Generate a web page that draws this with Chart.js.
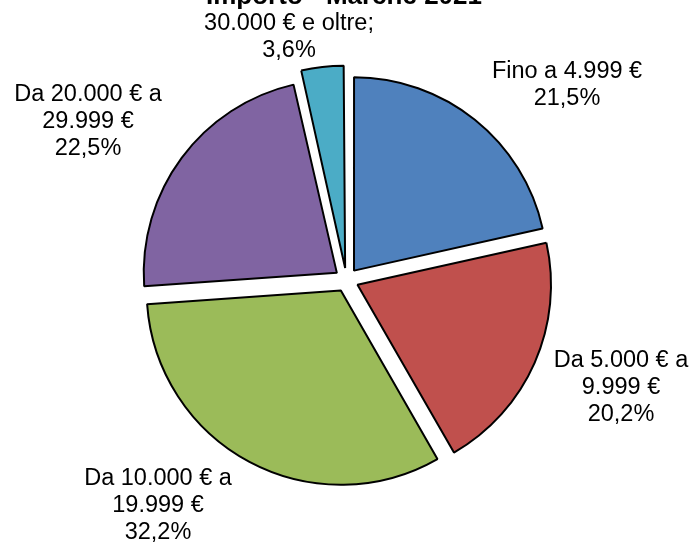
<!DOCTYPE html>
<html>
<head>
<meta charset="utf-8">
<script src="https://cdn.jsdelivr.net/npm/chart.js@4"></script>
<style>
  html, body { margin: 0; padding: 0; background: #fff; }
  #wrap { width: 696px; height: 545px; }
</style>
</head>
<body>
<div id="wrap"><canvas id="pie"></canvas></div>
<script>
// Data
const categories = ['Fino a 4.999 €', 'Da 5.000 € a 9.999 €', 'Da 10.000 € a 19.999 €', 'Da 20.000 € a 29.999 €', '30.000 € e oltre'];
const labelLines = [
    ['Fino a 4.999 €'],
    ['Da 5.000 € a', '9.999 €'],
    ['Da 10.000 € a', '19.999 €'],
    ['Da 20.000 € a', '29.999 €'],
    ['30.000 € e oltre;']
];
const shares = [21.5, 20.2, 32.2, 22.5, 3.6];
const sliceColors = ['#4F81BD', '#C0504D', '#9BBB59', '#8064A2', '#4BACC6'];
const chartTitle = 'Importo - Marche 2021';

// where each data label block is centred
const labelAt = [[567, 85], [621, 388], [158, 506], [88, 122], [289, 37]];

const fmtPct = v => v.toFixed(1).replace('.', ',') + '%';

// title sits mostly above the canvas, like in the original
const cutTitle = {
    id: 'cutTitle',
    afterDraw(chart) {
        const ctx = chart.ctx;
        ctx.save();
        ctx.font = 'bold 26px "Liberation Sans", Arial, sans-serif';
        ctx.fillStyle = '#000';
        ctx.textAlign = 'center';
        ctx.textBaseline = 'alphabetic';
        ctx.fillText(chartTitle, 344, 4);
        ctx.restore();
    }
};

const sliceLabels = {
    id: 'sliceLabels',
    afterDatasetsDraw(chart) {
        const ctx = chart.ctx;
        ctx.save();
        ctx.font = '23.5px "Liberation Sans", Arial, sans-serif';
        ctx.fillStyle = '#000';
        ctx.textAlign = 'center';
        ctx.textBaseline = 'middle';
        const lh = 27;
        shares.forEach((v, i) => {
            const lines = labelLines[i].slice();
            lines.push(fmtPct(v));
            const [x, y] = labelAt[i];
            const top = y - (lines.length - 1) * lh / 2;
            lines.forEach((t, k) => ctx.fillText(t, x, top + k * lh));
        });
        ctx.restore();
    }
};

new Chart(document.getElementById('pie'), {
    type: 'pie',
    data: {
        labels: categories,
        datasets: [{
            data: shares,
            backgroundColor: sliceColors,
            borderColor: '#000',
            borderWidth: 2,
            offset: 48,
            radius: 193
        }]
    },
    options: {
        responsive: true,
        maintainAspectRatio: false,
        animation: false,
        layout: { padding: { left: 0, right: 3, top: 15, bottom: 0 } },
        plugins: {
            legend: { display: false },
            tooltip: { enabled: false },
            title: { display: false }
        }
    },
    plugins: [cutTitle, sliceLabels]
});
</script>
</body>
</html>
